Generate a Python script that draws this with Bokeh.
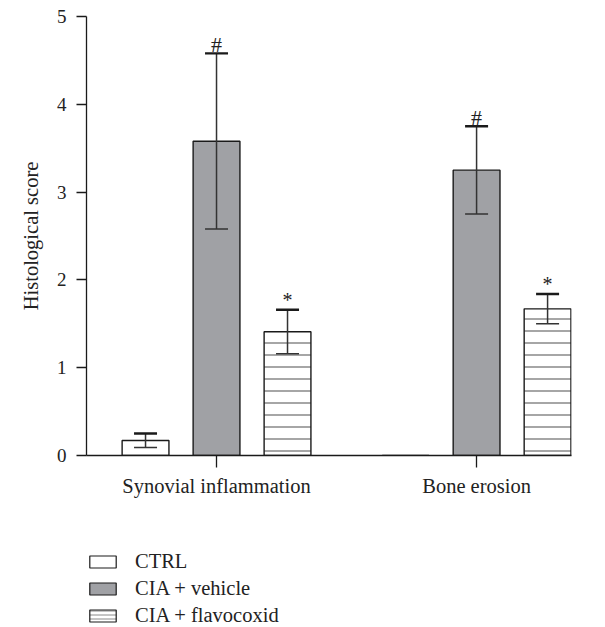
from bokeh.plotting import figure
from bokeh.layouts import column
from bokeh.models import (Whisker, ColumnDataSource, Legend, LegendItem,
                          FixedTicker, TeeHead, Range1d)
from bokeh.core.properties import value
from bokeh.embed import file_html
from bokeh.resources import INLINE

# ---- data ----
groups = ["Synovial inflammation", "Bone erosion"]
series = ["CTRL", "CIA + vehicle", "CIA + flavocoxid"]
ctrl_mean = [0.17, 0.0]
ctrl_err = [0.08, 0.0]
vehicle_mean = [3.58, 3.25]
vehicle_err = [1.0, 0.5]
flavo_mean = [1.41, 1.67]
flavo_err = [0.25, 0.17]
vehicle_marks = ["#", "#"]
flavo_marks = ["*", "*"]
y_ticks = [0, 1, 2, 3, 4, 5]

FONT = "Liberation Serif"
TXT = "20.5px"
offsets = [-0.273, 0.0, 0.273]
bar_w = 0.18

p = figure(width=600, height=505, output_backend="svg", toolbar_location=None,
           x_range=Range1d(-0.5, 1.365), y_range=Range1d(0, 5),
           min_border_left=86, min_border_right=29, min_border_top=16,
           min_border_bottom=50)
p.xgrid.visible = False
p.ygrid.visible = False
p.outline_line_color = None

gidx = list(range(len(groups)))
means = [ctrl_mean, vehicle_mean, flavo_mean]
errs = [ctrl_err, vehicle_err, flavo_err]

styles = [
    dict(fill_color="white"),
    dict(fill_color="#a0a1a5"),
    dict(fill_color="white", hatch_pattern="horizontal_line", hatch_scale=12,
         hatch_color="#6a6a6a", hatch_weight=1.2),
]

for k in range(3):
    xs = [g + offsets[k] for g in gidx]
    src = ColumnDataSource(dict(x=xs, top=means[k]))
    p.vbar(x="x", top="top", bottom=0, width=bar_w, source=src,
           line_color="#1a1a1a", line_width=1.4, **styles[k])

for k in range(3):
    xs, up, lo = [], [], []
    for g in gidx:
        if errs[k][g] > 0:
            xs.append(g + offsets[k])
            up.append(means[k][g] + errs[k][g])
            lo.append(means[k][g] - errs[k][g])
    wsrc = ColumnDataSource(dict(x=xs, upper=up, lower=lo))
    w = Whisker(base="x", upper="upper", lower="lower", source=wsrc,
                line_color="#333333", line_width=1.5, level="overlay",
                upper_head=TeeHead(size=23, line_width=2.4, line_color="#1a1a1a"),
                lower_head=TeeHead(size=23, line_width=1.5, line_color="#333333"))
    p.add_layout(w)

# significance marks
for k, marks, fs, off in ((1, vehicle_marks, "22px", -9), (2, flavo_marks, "20px", -10)):
    xs = [g + offsets[k] for g in gidx]
    ys = [means[k][g] + errs[k][g] for g in gidx]
    msrc = ColumnDataSource(dict(x=xs, y=ys, t=marks))
    p.text(x="x", y="y", text="t", source=msrc, text_align="center",
           text_baseline="alphabetic", y_offset=off,
           text_font=value(FONT), text_font_size=fs, text_color="#222222")

# axes
p.xaxis.ticker = FixedTicker(ticks=gidx)
p.xaxis.major_label_overrides = {g: groups[g] for g in gidx}
p.xaxis.major_tick_out = 12
p.xaxis.major_tick_in = 0
p.xaxis.minor_tick_line_color = None
p.xaxis.major_label_standoff = 7
p.xaxis.major_label_text_font_size = TXT
p.yaxis.ticker = FixedTicker(ticks=y_ticks)
p.yaxis.major_tick_out = 10
p.yaxis.major_tick_in = 0
p.yaxis.minor_tick_line_color = None
p.yaxis.major_label_standoff = 10
p.yaxis.major_label_text_font_size = "19px"
p.yaxis.axis_label = "Histological score"
p.yaxis.axis_label_standoff = 12
for ax in (p.xaxis, p.yaxis):
    ax.axis_line_color = "#1a1a1a"
    ax.axis_line_width = 1.3
    ax.major_tick_line_color = "#1a1a1a"
    ax.major_tick_line_width = 1.3
    ax.major_label_text_font = FONT
    ax.major_label_text_color = "#222222"
    ax.axis_label_text_font = FONT
    ax.axis_label_text_font_size = TXT
    ax.axis_label_text_font_style = "normal"
    ax.axis_label_text_color = "#222222"

# legend figure (swatch renderers sit far outside the visible range)
p2 = figure(width=600, height=120, output_backend="svg", toolbar_location=None,
            x_axis_type=None, y_axis_type=None,
            x_range=Range1d(0, 1), y_range=Range1d(0, 1),
            min_border_left=85, min_border_right=0, min_border_top=45,
            min_border_bottom=0)
p2.xgrid.visible = False
p2.ygrid.visible = False
p2.outline_line_color = None

leg_styles = [
    dict(fill_color="white"),
    dict(fill_color="#a0a1a5"),
    dict(fill_color="white", hatch_pattern="horizontal_line", hatch_scale=4,
         hatch_color="#8a8a8a", hatch_weight=1.0),
]
items = []
for k in range(3):
    r = p2.vbar(x=[0.5], top=[-50], bottom=[-51], width=0.01,
                line_color="#1a1a1a", line_width=1.2, **leg_styles[k])
    items.append(LegendItem(label=series[k], renderers=[r]))

legend = Legend(items=items, location="top_left", orientation="vertical",
                glyph_width=33, glyph_height=15, label_height=15,
                spacing=4, padding=3, margin=0, label_standoff=16,
                label_text_font=FONT, label_text_font_size=TXT,
                label_text_color="#222222", border_line_color=None,
                background_fill_alpha=0)
p2.add_layout(legend)

layout = column(p, p2, spacing=0)
open("out.html", "w").write(file_html(layout, INLINE))
